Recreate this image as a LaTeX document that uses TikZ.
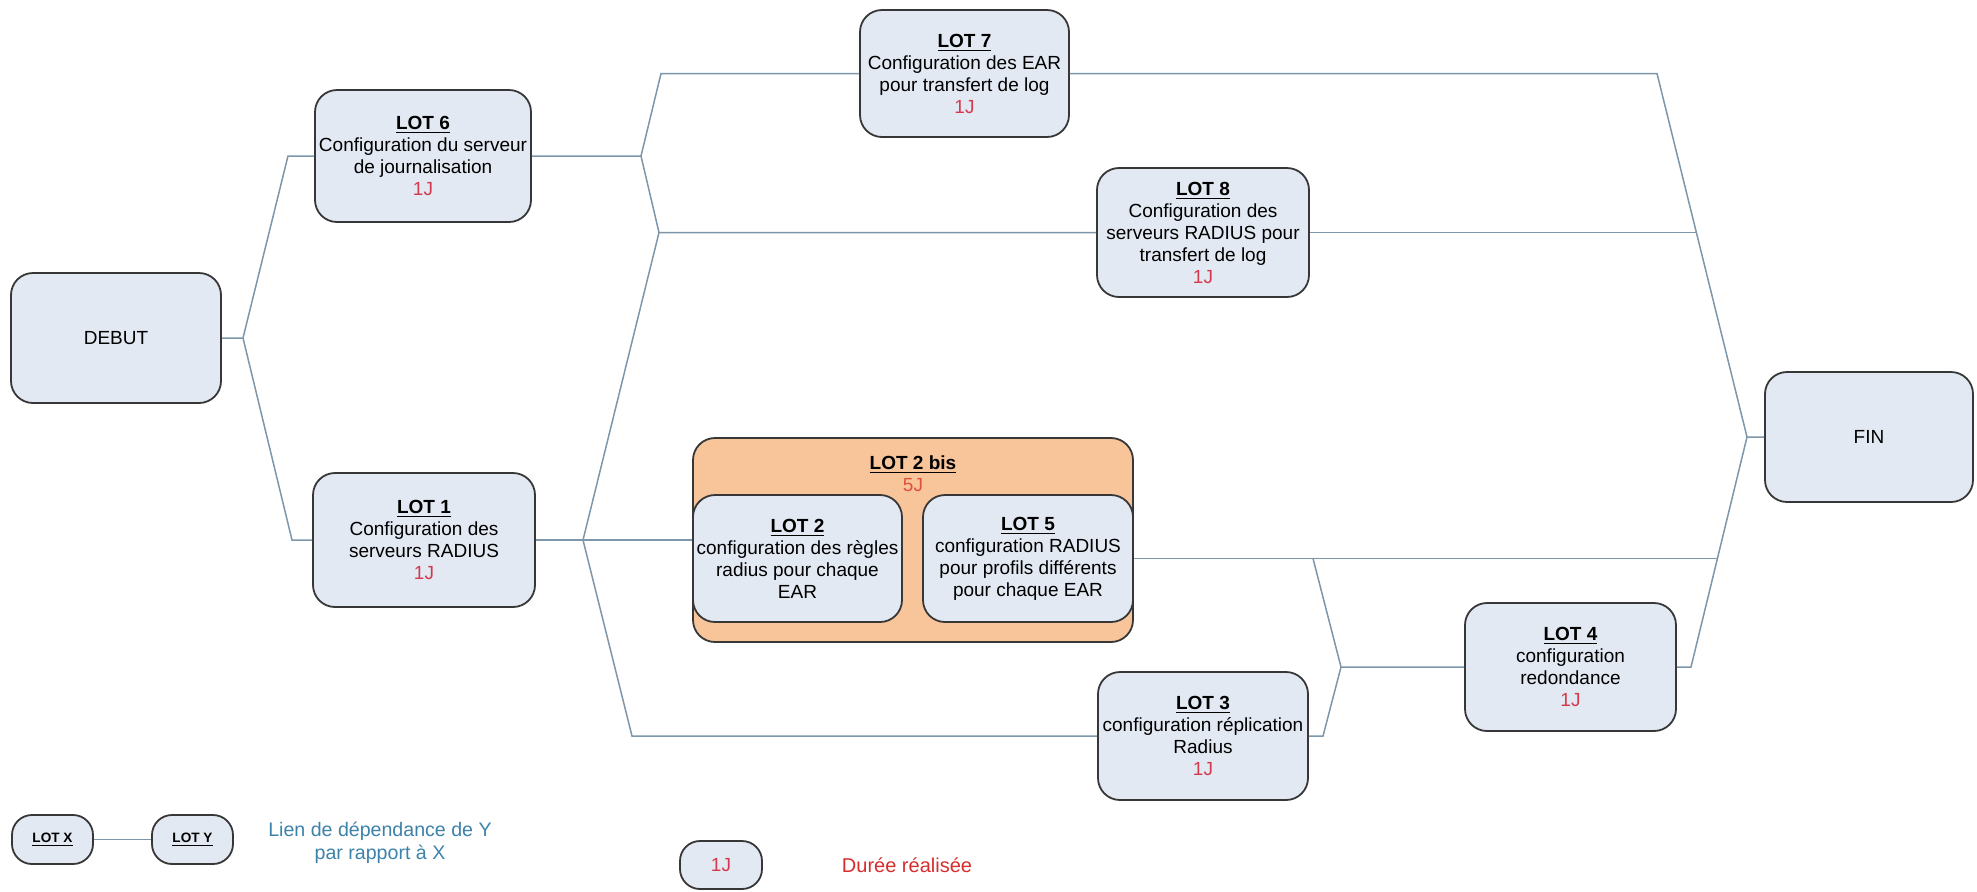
\documentclass[tikz,border=0pt]{standalone}
\usepackage{fontspec}
\setmainfont{Liberation Sans}
\usetikzlibrary{calc}

\definecolor{boxfill}{RGB}{227,233,243}
\definecolor{boxline}{RGB}{55,55,55}
\definecolor{linkcol}{RGB}{125,150,170}
\definecolor{lotorange}{RGB}{248,197,155}
\definecolor{durred}{RGB}{212,58,78}
\definecolor{fivered}{RGB}{222,80,60}
\definecolor{legred}{RGB}{215,45,45}
\definecolor{legblue}{RGB}{60,130,170}

\newcommand\lotname[1]{\underline{\textbf{#1}}}
\newcommand\lotdur[1]{\textcolor{durred}{#1}}

\begin{document}
\begin{tikzpicture}[x=0.5pt,y=-0.5pt,
  lot/.style={draw=boxline, line width=0.9pt, fill=boxfill, rounded corners=11pt,
    align=center, inner sep=0pt, font=\fontsize{9.5}{11}\selectfont},
  legbox/.style={lot, rounded corners=10pt},
  link/.style={draw=linkcol, line width=0.75pt},
]
\useasboundingbox (0,0) rectangle (1977,891);

% ---------- tasks ----------
\node[lot, minimum width=105pt, minimum height=65pt] (debut) at (116,338) {DEBUT};
\node[lot, minimum width=108pt, minimum height=66pt] (lot6) at (423,156)
  {\lotname{LOT 6}\\Configuration du serveur\\de journalisation\\\lotdur{1J}};
\node[lot, minimum width=111pt, minimum height=67pt] (lot1) at (424,540)
  {\lotname{LOT 1}\\Configuration des\\serveurs RADIUS\\\lotdur{1J}};
\node[lot, minimum width=104.5pt, minimum height=63.5pt] (lot7) at (964.5,73.5)
  {\lotname{LOT 7}\\Configuration des EAR\\pour transfert de log\\\lotdur{1J}};
\node[lot, minimum width=106pt, minimum height=64.5pt] (lot8) at (1203,232.5)
  {\lotname{LOT 8}\\Configuration des\\serveurs RADIUS pour\\transfert de log\\\lotdur{1J}};

% group of lots 2 and 5
\node[lot, fill=lotorange, minimum width=220pt, minimum height=102pt] (lot2bis) at (913,540) {};
\node[align=center, inner sep=0pt, font=\fontsize{9.5}{11}\selectfont] (lot2bistitle) at (913,474)
  {\lotname{LOT 2 bis}\\\textcolor{fivered}{5J}};
\node[lot, minimum width=104.5pt, minimum height=63.5pt] (lot2) at (797.5,558.5)
  {\lotname{LOT 2}\\configuration des règles\\radius pour chaque\\EAR};
\node[lot, minimum width=105pt, minimum height=63.5pt] (lot5) at (1028,558.5)
  {\lotname{LOT 5}\\configuration RADIUS\\pour profils différents\\pour chaque EAR};

\node[lot, minimum width=105pt, minimum height=64pt] (lot3) at (1203,736)
  {\lotname{LOT 3}\\configuration réplication\\Radius\\\lotdur{1J}};
\node[lot, minimum width=105.5pt, minimum height=64pt] (lot4) at (1570.5,667)
  {\lotname{LOT 4}\\configuration\\redondance\\\lotdur{1J}};
\node[lot, minimum width=104pt, minimum height=65pt] (fin) at (1869,437) {FIN};

% ---------- junction points ----------
\coordinate (jA)  at (243,338);
\coordinate (jA6) at (288,156);
\coordinate (jA1) at (292,540);
\coordinate (jB)  at (641,156);
\coordinate (jB7) at (661,73.5);
\coordinate (jB8) at (659,232.5);
\coordinate (jC)  at (583,540);
\coordinate (jC3) at (632,736);
\coordinate (jD)  at (1313,558.5);
\coordinate (jD4) at (1341,667);
\coordinate (jE)  at (1323,736);
\coordinate (jF)  at (1747,437);
\coordinate (jF7) at (1657,73.5);
\coordinate (jF8) at (1696.4,232.5);
\coordinate (jF4) at (1691,667);
\coordinate (jF5) at (1717.4,558.5);

% ---------- dependencies ----------
\draw[link] (debut.east) -- (jA) -- (jA6) -- (lot6.west);
\draw[link] (jA) -- (jA1) -- (lot1.west);
\draw[link] (lot6.east) -- (jB) -- (jB7) -- (lot7.west);
\draw[link] (jB) -- (jB8) -- (lot8.west);
\draw[link] (lot1.east) -- (jC) -- (lot2bis.west);
\draw[link] (jC) -- (jB8);
\draw[link] (jC) -- (jC3) -- (lot3.west);
\draw[link] (lot7.east) -- (jF7) -- (jF) -- (fin.west);
\draw[link] (lot8.east) -- (jF8);
\draw[link] (lot5.east) -- (jF5);
\draw[link] (jD) -- (jD4) -- (lot4.west);
\draw[link] (lot3.east) -- (jE) -- (jD4);
\draw[link] (lot4.east) -- (jF4) -- (jF);

% ---------- legend ----------
\node[legbox, minimum width=40.5pt, minimum height=24.5pt, font=\fontsize{6.8}{8}\selectfont]
  (lotx) at (52.5,839.5) {\lotname{LOT X}};
\node[legbox, minimum width=40.5pt, minimum height=24.5pt, font=\fontsize{6.8}{8}\selectfont]
  (loty) at (192.5,839.5) {\lotname{LOT Y}};
\draw[link] (lotx.east) -- (loty.west);
\node[text=legblue, align=center, inner sep=0pt, font=\fontsize{9.8}{11.5}\selectfont]
  (legdep) at (380,843) {Lien de dépendance de Y\\par rapport à X};
\node[legbox, minimum width=41pt, minimum height=24pt] (legdur) at (721,865) {\lotdur{1J}};
\node[text=legred, inner sep=0pt, font=\fontsize{10}{12}\selectfont]
  (legdurtext) at (907,865) {Durée réalisée};
\end{tikzpicture}
\end{document}
